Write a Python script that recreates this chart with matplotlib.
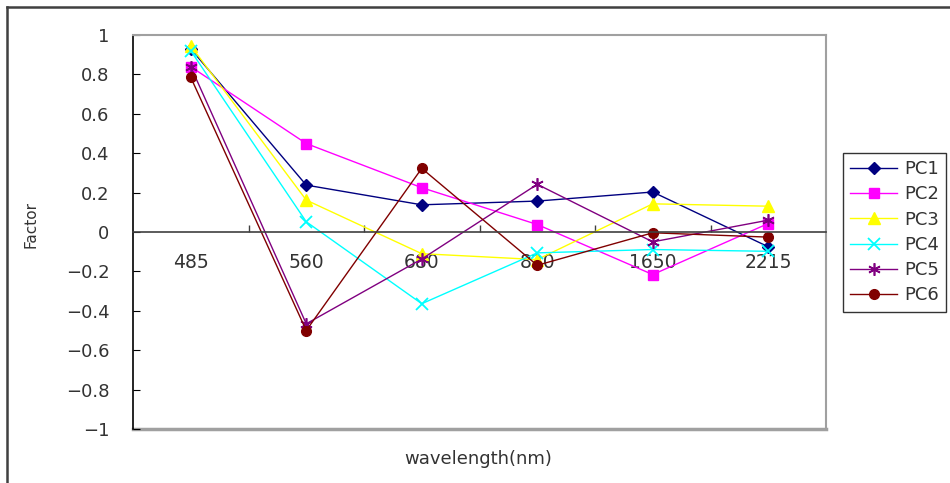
import matplotlib
matplotlib.use("Agg")
import matplotlib.pyplot as plt
from matplotlib.lines import Line2D
import numpy as np

# categories (wavelength in nm) and factor loadings
wavelengths = ["485", "560", "680", "820", "1650", "2215"]
pc1 = [0.93, 0.238, 0.138, 0.157, 0.203, -0.075]
pc2 = [0.839, 0.449, 0.225, 0.038, -0.216, 0.043]
pc3 = [0.945, 0.162, -0.11, -0.14, 0.143, 0.131]
pc4 = [0.92, 0.052, -0.364, -0.106, -0.089, -0.098]
pc5 = [0.839, -0.466, -0.137, 0.242, -0.05, 0.06]
pc6 = [0.785, -0.5, 0.323, -0.169, -0.004, -0.026]
series_names = ["PC1", "PC2", "PC3", "PC4", "PC5", "PC6"]
yticks = [-1, -0.8, -0.6, -0.4, -0.2, 0, 0.2, 0.4, 0.6, 0.8, 1]

styles = [
    dict(color="#000080", marker="D", ms=6),
    dict(color="#FF00FF", marker="s", ms=7),
    dict(color="#FFFF00", marker="^", ms=8),
    dict(color="#00FFFF", marker="x", ms=8, mew=1.3),
    dict(color="#800080", marker=(6, 2, 0), ms=9, mew=1.2),
    dict(color="#800000", marker="o", ms=7),
]

plt.rcParams["font.family"] = ["DejaVu Sans"]
txt = "#333333"

fig = plt.figure(figsize=(9.5, 4.83), dpi=100)
ax = fig.add_axes([133 / 950, 1 - 429 / 483, 693 / 950, 394 / 483])

x = np.arange(len(wavelengths))
for name, vals, st in zip(series_names, [pc1, pc2, pc3, pc4, pc5, pc6], styles):
    ax.plot(x, vals, lw=1.0, label=name, clip_on=False, **st)

ax.set_xlim(-0.5, len(wavelengths) - 0.5)
ax.set_ylim(-1, 1)

# y axis
ax.set_yticks(yticks)
ax.set_yticklabels(["\u2212" + f"{abs(v):g}" if v < 0 else f"{v:g}" for v in yticks])
ax.tick_params(axis="y", direction="in", length=5, pad=17, labelsize=13,
               color="black", labelcolor=txt)

# x axis sits on zero, boundary ticks point up, labels at categories
ax.spines["bottom"].set_position(("data", 0))
ax.spines["bottom"].set_color("#404040")
ax.spines["bottom"].set_linewidth(1.2)
ax.set_xticks(np.arange(0.5, len(wavelengths) - 0.5, 1.0))
ax.set_xticklabels([])
ax.set_xticks(x, minor=True)
ax.set_xticklabels(wavelengths, minor=True)
ax.tick_params(axis="x", which="major", direction="in", length=5,
               color="#404040", width=1)
ax.tick_params(axis="x", which="minor", length=0, pad=15, labelsize=13.5,
               labelcolor=txt)

ax.spines["left"].set_color("black")
ax.spines["left"].set_linewidth(1.2)
for s in ["top", "right"]:
    ax.spines[s].set_color("#a0a0a0")
    ax.spines[s].set_linewidth(1.5)
ax.axhline(-1, color="#a0a0a0", lw=2.5, clip_on=False, zorder=0)

ax.set_ylabel("Factor", fontsize=11, color=txt)
ax.yaxis.set_label_coords(-0.137, 0.518)
fig.text(478 / 950, 1 - 459 / 483, "wavelength(nm)", ha="center", va="center",
         fontsize=13, color=txt)

leg = ax.legend(loc="upper left", bbox_to_anchor=(843 / 950, 1 - 153 / 483),
                bbox_transform=fig.transFigure, fontsize=13, frameon=True,
                fancybox=False, edgecolor="black", handlelength=2.6,
                handletextpad=0.4, labelspacing=0.4, borderpad=0.4,
                borderaxespad=0)
leg.get_frame().set_linewidth(1.0)
for t in leg.get_texts():
    t.set_color(txt)

# outer chart border (top and left edges visible)
fig.add_artist(Line2D([7 / 950, 1], [1 - 7 / 483, 1 - 7 / 483],
                      transform=fig.transFigure, color="#404040", lw=1.8))
fig.add_artist(Line2D([7 / 950, 7 / 950], [0, 1 - 7 / 483],
                      transform=fig.transFigure, color="#404040", lw=1.8))

fig.savefig("out.png", dpi=100)
plt.close(fig)
